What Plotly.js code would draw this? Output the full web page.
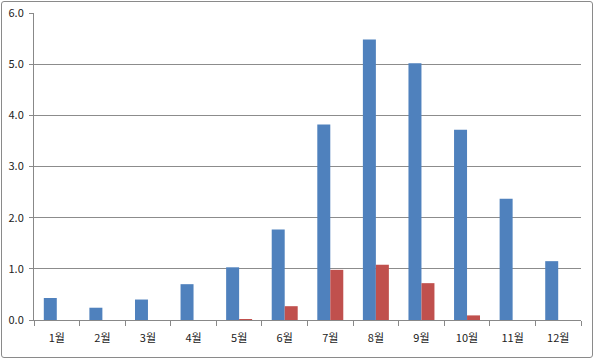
<!DOCTYPE html>
<html>
<head>
<meta charset="utf-8">
<script src="https://cdn.plot.ly/plotly-3.0.1.min.js"></script>
<style>
html,body{margin:0;padding:0;background:#fff;}
#chart{width:594px;height:360px;position:relative;}
#frame{position:absolute;left:1px;top:1px;width:590px;height:355px;border:1px solid #8a8a8a;border-radius:3px;pointer-events:none;}
</style>
</head>
<body>
<div style="position:relative;width:594px;height:360px;">
<div id="chart"></div>
<div id="frame"></div>
</div>
<script>
const months = ['1월','2월','3월','4월','5월','6월','7월','8월','9월','10월','11월','12월'];
const seriesA = [0.43, 0.24, 0.40, 0.70, 1.03, 1.77, 3.82, 5.48, 5.02, 3.72, 2.37, 1.15];
const seriesB = [0, 0, 0, 0, 0.02, 0.27, 0.98, 1.08, 0.72, 0.09, 0, 0];

const data = [
  {type:'bar', x:months, y:seriesA, marker:{color:'#4F81BD'}, hoverinfo:'x+y'},
  {type:'bar', x:months, y:seriesB, marker:{color:'#C0504D'}, hoverinfo:'x+y'}
];
const layout = {
  width:594, height:360,
  margin:{l:34, r:13, t:13, b:40},
  paper_bgcolor:'#fff', plot_bgcolor:'#fff',
  showlegend:false,
  barmode:'group', bargap:0.43, bargroupgap:0,
  font:{family:'"Noto Sans CJK KR", "DejaVu Sans", sans-serif', size:11, color:'#222'},
  xaxis:{type:'category', tickson:'boundaries', ticks:'outside', ticklen:5, tickcolor:'#888',
         showline:true, linecolor:'#888', linewidth:1, showgrid:false, fixedrange:true,
         ticklabelstandoff:8, tickfont:{size:11, color:'#222'}},
  yaxis:{range:[0,6], dtick:1, tickformat:'.1f', ticks:'outside', ticklen:4, tickcolor:'#888',
         showline:true, linecolor:'#888', linewidth:1, gridcolor:'#8c8c8c', gridwidth:1,
         zeroline:false, fixedrange:true, ticklabelstandoff:3, tickfont:{size:11, color:'#222'}}
};
Plotly.newPlot('chart', data, layout, {displayModeBar:false, staticPlot:true});
</script>
</body>
</html>
